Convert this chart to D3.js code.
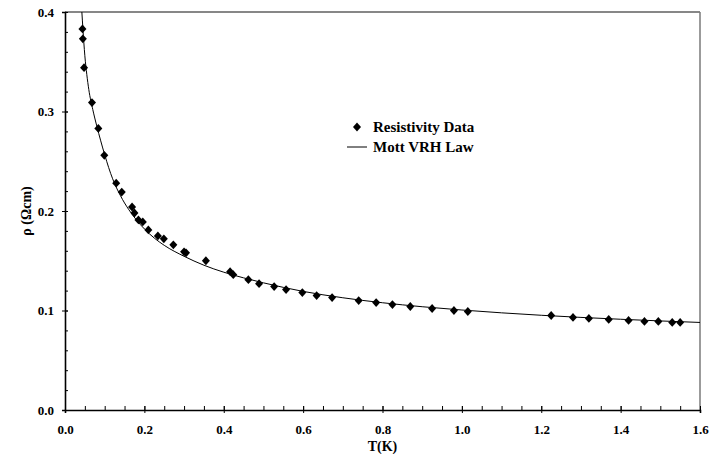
<!DOCTYPE html>
<html>
<head>
<meta charset="utf-8">
<script src="https://cdn.jsdelivr.net/npm/d3@7"></script>
<style>
  html, body { margin:0; padding:0; background:#fff; }
  #canvas { width:724px; height:454px; }
  text { font-family:"Liberation Serif","Times New Roman",serif; font-weight:bold; fill:#000; }
</style>
</head>
<body>
<div id="canvas" class="canvas"></div>
<script>
//---- ---- DATA ---- ----
var tempK = [0.044,0.045,0.048,0.068,0.084,0.099,0.129,0.143,0.169,0.175,0.185,0.196,0.210,0.234,0.249,
             0.273,0.300,0.305,0.355,0.416,0.424,0.462,0.489,0.527,0.557,0.598,0.634,0.673,0.740,0.784,
             0.825,0.870,0.925,0.980,1.015,1.225,1.280,1.320,1.370,1.420,1.460,1.495,1.530,1.550];
var rhoData = [0.383,0.373,0.344,0.309,0.283,0.256,0.228,0.219,0.204,0.198,0.191,0.189,0.181,0.175,0.172,
               0.166,0.159,0.158,0.150,0.139,0.136,0.131,0.127,0.124,0.121,0.118,0.115,0.113,0.110,0.108,
               0.106,0.104,0.102,0.100,0.099,0.095,0.093,0.092,0.091,0.090,0.089,0.089,0.088,0.088];

// Mott VRH fit line
var fitT   = [0.0425,0.045,0.050,0.055,0.060,0.070,0.080,0.090,0.100,0.120,0.140,0.160,0.180,0.200,0.225,0.250,
              0.300,0.350,0.400,0.450,0.500,0.600,0.700,0.800,0.900,1.000,1.200,1.400,1.600];
var fitRho = [0.400,0.384,0.356,0.337,0.322,0.302,0.2855,0.2705,0.2565,0.2324,0.2152,0.2018,0.1910,0.1820,0.1728,0.1655,
              0.1545,0.1455,0.1385,0.1328,0.1278,0.1192,0.1128,0.1078,0.1038,0.1005,0.0952,0.0912,0.0880];

var xTicks = [0,0.2,0.4,0.6,0.8,1.0,1.2,1.4,1.6];
var yTicks = [0,0.1,0.2,0.3,0.4];
var legendLabels = ['Resistivity Data','Mott VRH Law'];

//---- ---- MARGIN CONVENTION ---- ----
var m = {t:12,r:24,b:44,l:65};
var outerWidth = 724, outerHeight = 454;
var w = outerWidth - m.l - m.r,
    h = outerHeight - m.t - m.b;

var svg = d3.select('.canvas')
    .append('svg')
    .attr('width',outerWidth)
    .attr('height',outerHeight);

var plot = svg.append('g')
    .attr('transform','translate(' + m.l + ',' + m.t + ')');

//---- ---- SCALES ---- ----
var scaleX = d3.scaleLinear().domain([0,1.6]).range([0,w]);
var scaleY = d3.scaleLinear().domain([0,0.4]).range([h,0]);

//---- ---- FRAME (top & right) ---- ----
plot.append('line').attr('x1',0).attr('x2',w).attr('y1',0).attr('y2',0)
    .attr('stroke','#111').attr('stroke-width',1.2);
plot.append('line').attr('x1',w).attr('x2',w).attr('y1',0).attr('y2',h)
    .attr('stroke','#7a7a7a').attr('stroke-width',1.5);

//---- ---- AXES ---- ----
// minor ticks, pointing inside
var axisXMinor = d3.axisBottom(scaleX).tickValues(d3.range(0,1.6001,0.05)).tickSize(-4).tickFormat('');
var axisYMinor = d3.axisLeft(scaleY).tickValues(d3.range(0,0.4001,0.02)).tickSize(-3).tickFormat('');

plot.append('g').attr('class','axis-minor')
    .attr('transform','translate(0,'+h+')').call(axisXMinor);
plot.append('g').attr('class','axis-minor').call(axisYMinor);

var axisX = d3.axisBottom(scaleX).tickValues(xTicks).tickSize(3).tickPadding(12)
    .tickFormat(d3.format('.1f'));
var axisY = d3.axisLeft(scaleY).tickValues(yTicks).tickSize(3).tickPadding(8)
    .tickFormat(d3.format('.1f'));

var gx = plot.append('g').attr('class','axis axis-x')
    .attr('transform','translate(0,'+h+')').call(axisX);
var gy = plot.append('g').attr('class','axis axis-y').call(axisY);

// major ticks cross the axis line
gx.selectAll('.tick line').attr('y1',-4);
gy.selectAll('.tick line').attr('x1',3);

svg.selectAll('.axis-minor .domain').remove();
svg.selectAll('.axis .domain').attr('stroke','#000').attr('stroke-width',1.6);
svg.selectAll('.tick line').attr('stroke','#000');
svg.selectAll('.axis .tick text')
    .style('font-family','"Liberation Serif","Times New Roman",serif')
    .style('font-weight','bold')
    .style('font-size','13px')
    .attr('fill','#000');

//---- ---- AXIS TITLES ---- ----
svg.append('text')
    .attr('x', m.l + w/2).attr('y', 451)
    .attr('text-anchor','middle')
    .style('font-size','14px')
    .text('T(K)');

svg.append('text')
    .attr('transform','translate(31,' + (m.t + scaleY(0.2)) + ') rotate(-90)')
    .attr('text-anchor','middle')
    .style('font-size','14px')
    .text('ρ (Ωcm)');

//---- ---- FIT LINE ---- ----
var fit = fitT.map(function(t,i){ return {t:t, rho:fitRho[i]}; });
var line = d3.line()
    .x(function(d){ return scaleX(d.t); })
    .y(function(d){ return scaleY(d.rho); })
    .curve(d3.curveMonotoneX);

plot.append('path')
    .datum(fit)
    .attr('d', line)
    .attr('fill','none')
    .attr('stroke','#000')
    .attr('stroke-width',1);

//---- ---- DATA POINTS ---- ----
var diamond = {
  draw: function(ctx, size){
    var a = Math.sqrt(size)/2;
    ctx.moveTo(0,-a*1.1); ctx.lineTo(a,0); ctx.lineTo(0,a*1.1); ctx.lineTo(-a,0); ctx.closePath();
  }
};
var sym = d3.symbol().type(diamond).size(64);

var pts = tempK.map(function(t,i){ return {t:t, rho:rhoData[i]}; });
plot.selectAll('path.pt')
    .data(pts)
    .enter()
    .append('path')
    .attr('class','pt')
    .attr('d', sym)
    .attr('transform', function(d){ return 'translate(' + scaleX(d.t) + ',' + scaleY(d.rho) + ')'; })
    .attr('fill','#000');

//---- ---- LEGEND ---- ----
var lg = svg.append('g').attr('transform','translate(347,127)');
lg.append('path').attr('d', sym).attr('transform','translate(10,0)').attr('fill','#000');
lg.append('line').attr('x1',0).attr('x2',20).attr('y1',20).attr('y2',20)
    .attr('stroke','#000').attr('stroke-width',1);
lg.selectAll('text.lg')
    .data(legendLabels)
    .enter()
    .append('text')
    .attr('class','lg')
    .attr('x',26)
    .attr('y',function(d,i){ return i*20 + 5; })
    .style('font-size','15px')
    .text(function(d){ return d; });
</script>
</body>
</html>
